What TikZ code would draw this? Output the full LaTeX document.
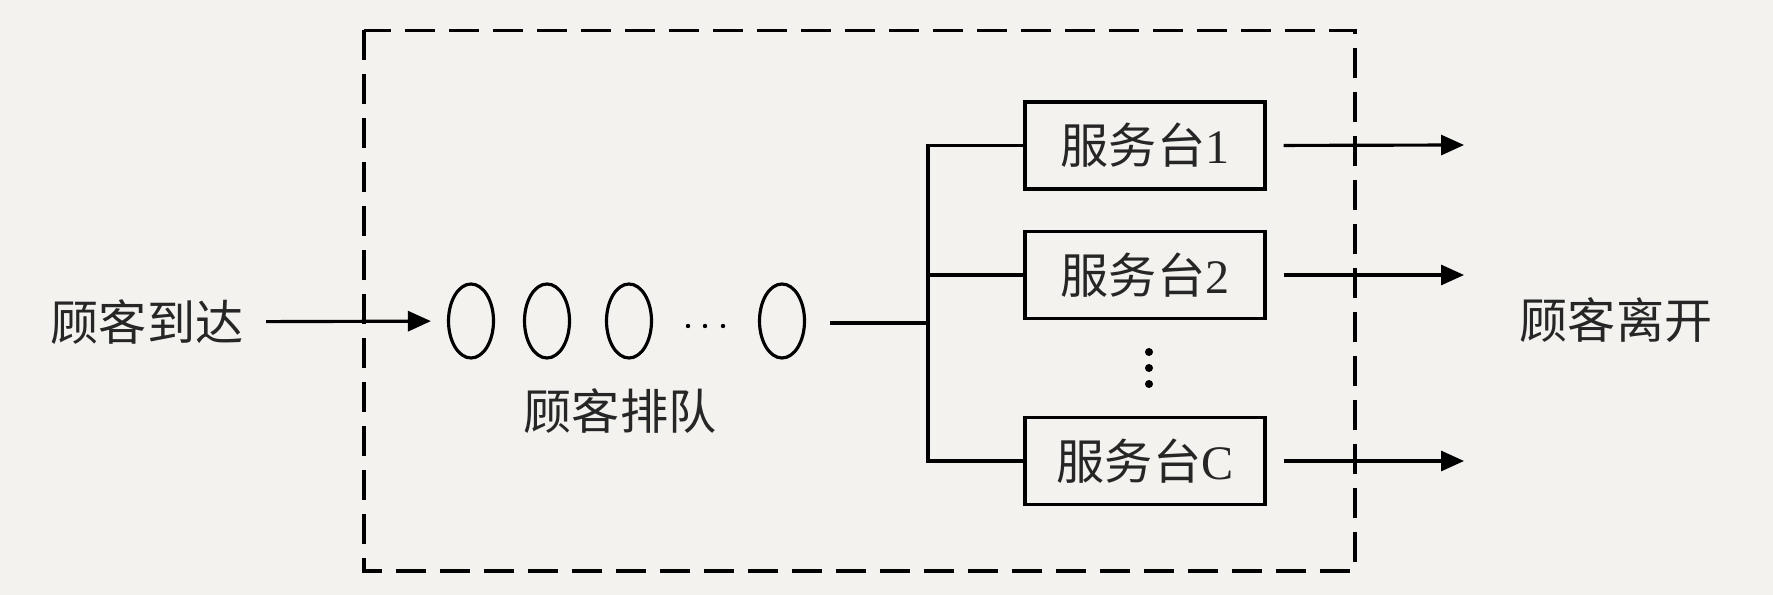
\documentclass[tikz,border=0pt]{standalone}
\usepackage{fontspec}
\setmainfont{Liberation Serif}
\newfontfamily\cjk{Noto Sans CJK SC}
\usepackage{xcolor}
\usetikzlibrary{arrows.meta, positioning}
\usetikzlibrary{shapes.geometric}

\definecolor{paper}{HTML}{F3F2EF}
\tikzset{
  server/.style={draw, line width=0.9pt, minimum width=2.4cm, minimum height=0.87cm, inner sep=0pt},
  guest/.style={ellipse, draw, line width=0.9pt, minimum width=0.45cm, minimum height=0.74cm, inner sep=0pt},
  lbl/.style={font=\fontsize{13.7}{16}\selectfont, text=black!85, inner sep=0pt},
  flow/.style={line width=0.9pt, -{Triangle[length=0.23cm, width=0.2cm]}}
}

\begin{document}
\begin{tikzpicture}
        \fill[paper] (0,0) rectangle (17.73,5.95);
        \useasboundingbox (0,0) rectangle (17.73,5.95);

        % system boundary
        \draw[line width=0.9pt, dash pattern=on 0.3cm off 0.14cm] (3.64,5.645) rectangle (13.55,0.24);

        % arriving customers and the queue
        \node[lbl] (arrive) at (1.47,2.73) {\cjk 顾客到达};
        \node[guest] (e1) at (4.71,2.74) {};
        \node[guest] (e2) at (5.47,2.74) {};
        \node[guest] (e3) at (6.29,2.74) {};
        \node[guest] (e4) at (7.82,2.74) {};
        \foreach \x in {6.88,7.05,7.23}
            \fill (\x,2.69) circle (0.022);
        \node[lbl] (queue) at (6.20,1.84) {\cjk 顾客排队};
        \draw[flow, shorten <=0.22cm, shorten >=0.16cm] (arrive) -- (e1);

        % servers
        \node[server, lbl] (b1) at (11.45,4.495) {{\cjk 服务台}1};
        \node[server, lbl] (b2) at (11.45,3.20) {{\cjk 服务台}2};
        \node[server, lbl] (bC) at (11.45,1.34) {{\cjk 服务台}C};
        \foreach \y in {2.43,2.27,2.11}
            \fill (11.49,\y) circle (0.04);

        % queue to servers
        \coordinate (qout) at (8.30,2.72);
        \coordinate (bus) at (9.28,2.72);
        \draw[line width=0.9pt] (qout) -- (bus);
        \draw[line width=0.9pt] (b1.west) -- (b1.west -| bus) -- (bC.west -| bus) -- (bC.west);
        \draw[line width=0.9pt] (b2.west) -- (b2.west -| bus);

        % leaving customers
        \coordinate (o1) at (14.64,4.50);
        \coordinate (o2) at (14.64,3.20);
        \coordinate (o3) at (14.64,1.34);
        \draw[flow, shorten <=0.17cm] (b1.east) -- (o1);
        \draw[flow, shorten <=0.17cm] (b2.east) -- (o2);
        \draw[flow, shorten <=0.17cm] (bC.east) -- (o3);
        \node[lbl] (leave) at (16.16,2.75) {\cjk 顾客离开};
    \end{tikzpicture}
\end{document}
